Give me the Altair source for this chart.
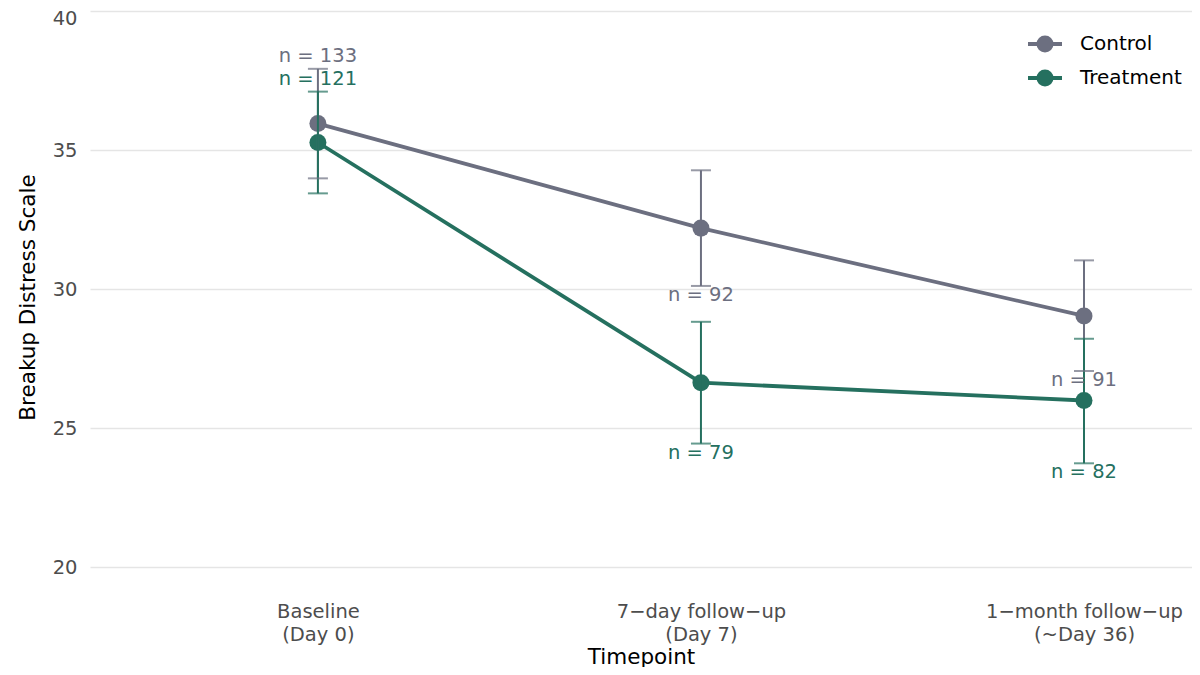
import altair as alt
import pandas as pd

timepoints = [["Baseline", "(Day 0)"], ["7\u2212day follow\u2212up", "(Day 7)"], ["1\u2212month follow\u2212up", "(~Day 36)"]]
groups = ["Control", "Treatment"]
colors = ["#6C6F80", "#25705F"]

control_mean = [35.95, 32.19, 29.03]
control_lo = [33.98, 30.11, 27.05]
control_hi = [37.92, 34.27, 31.03]
control_n = [133, 92, 91]

treat_mean = [35.27, 26.63, 25.99]
treat_lo = [33.44, 24.44, 23.73]
treat_hi = [37.10, 28.82, 28.21]
treat_n = [121, 79, 82]

rows = []
for g, m, lo, hi, n in [("Control", control_mean, control_lo, control_hi, control_n),
                        ("Treatment", treat_mean, treat_lo, treat_hi, treat_n)]:
    for i in range(3):
        rows.append({"group": g, "idx": i, "mean": m[i], "lo": lo[i], "hi": hi[i],
                     "label": f"n = {n[i]}", "above": i == 0})
df = pd.DataFrame(rows)
legend_df = pd.DataFrame({"group": groups, "row": list(range(len(groups)))})

font = "DejaVu Sans"
label_expr = " : ".join(f"datum.value == {i} ? {t}" for i, t in enumerate(timepoints)) + " : ''"

x = alt.X("idx:Q", scale=alt.Scale(domain=[-0.595, 2.282], nice=False, zero=False),
          axis=alt.Axis(values=[0, 1, 2], labelExpr=label_expr, title="Timepoint",
                        grid=False, domain=False, ticks=False, tickSize=0, labelLimit=400,
                        labelPadding=35, labelLineHeight=23, labelFontSize=19.5,
                        labelColor="#4D4D4D", titleFontSize=21.5, titleFontWeight="normal",
                        titleY=96, titleBaseline="alphabetic", titleColor="#000000",
                        labelFont=font, titleFont=font))
y = alt.Y("mean:Q", scale=alt.Scale(domain=[20, 40], nice=False, zero=False),
          axis=alt.Axis(values=[20, 25, 30, 35, 40], title="Breakup Distress Scale",
                        domain=False, ticks=False, tickSize=0, labelPadding=13,
                        labelOffset={"condition": {"test": "datum.value == 40", "value": 7}, "value": 0},
                        labelFontSize=19.5, labelColor="#4D4D4D", gridColor="#E5E5E5",
                        gridWidth=1.5, titleFontSize=21.5, titleFontWeight="normal",
                        titleAngle=270, titleX=-62, titleY=286, titleAlign="center",
                        titleBaseline="middle", titleColor="#000000",
                        labelFont=font, titleFont=font))

cscale = alt.Scale(domain=groups, range=colors)
col = alt.Color("group:N", scale=cscale, legend=None)

base = alt.Chart(df)

lines = base.mark_line(strokeWidth=3.8).encode(x=x, y=y, color=col, detail="group:N")
points = base.mark_point(filled=True, size=290, opacity=1).encode(x=x, y=y, color=col)

bars = base.mark_rule(strokeWidth=2).encode(x=x, y="lo:Q", y2="hi:Q", color=col)
caps_lo = base.mark_tick(orient="horizontal", size=20, thickness=2).encode(x=x, y="lo:Q", color=col)
caps_hi = base.mark_tick(orient="horizontal", size=20, thickness=2).encode(x=x, y="hi:Q", color=col)

text_above = base.transform_filter("datum.above").mark_text(
    baseline="bottom", dy=-3, fontSize=19.5, font=font).encode(
    x=x, y="hi:Q", text="label:N", color=col)
text_below = base.transform_filter("!datum.above").mark_text(
    baseline="top", dy=0, fontSize=19.5, font=font).encode(
    x=x, y="lo:Q", text="label:N", color=col)

main = alt.layer(lines, points, bars, caps_lo, caps_hi, text_above, text_below)

# legend drawn by hand: line with a dot, then the group name
ly = alt.Y("row:Q", scale=alt.Scale(domain=[0, 1], range=[33, 67], nice=False, zero=False), axis=None)
lbase = alt.Chart(legend_df)
leg_line = lbase.mark_rule(strokeWidth=3.8).encode(
    x=alt.value(938), x2=alt.value(972), y=ly, color=col)
leg_pt = lbase.mark_point(filled=True, size=290, opacity=1).encode(
    x=alt.value(955), y=ly, color=col)
leg_txt = lbase.mark_text(align="left", baseline="middle", fontSize=20, font=font,
                          color="#000000").encode(x=alt.value(990), y=ly, text="group:N")
legend = alt.layer(leg_line, leg_pt, leg_txt)

chart = alt.layer(main, legend).resolve_scale(y="independent").properties(
    width=1102, height=556,
    background="white",
    autosize=alt.AutoSizeParams(type="none"),
    padding={"left": 82, "top": 3, "right": 0, "bottom": 100},
).configure_view(stroke=None)

chart.save("out.html", embed_options={"renderer": "svg", "actions": False})
